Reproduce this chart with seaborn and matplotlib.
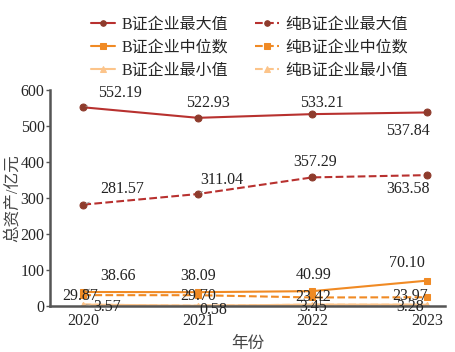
import pandas as pd
import matplotlib
matplotlib.use("Agg")
import matplotlib.pyplot as plt
import seaborn as sns

# 数据
years = [2020, 2021, 2022, 2023]
b_max = [552.19, 522.93, 533.21, 537.84]
pure_max = [281.57, 311.04, 357.29, 363.58]
b_median = [38.66, 38.09, 40.99, 70.10]
pure_median = [29.87, 29.70, 23.42, 23.97]
b_min = [3.57, 0.58, 3.45, 3.28]
pure_min = [3.57, 0.58, 3.45, 3.28]

names = ["B证企业最大值", "纯B证企业最大值", "B证企业中位数",
         "纯B证企业中位数", "B证企业最小值", "纯B证企业最小值"]
series = [b_max, pure_max, b_median, pure_median, b_min, pure_min]

sns.set_style("ticks")
plt.rcParams["font.family"] = ["Liberation Serif", "Noto Sans CJK SC"]
plt.rcParams["font.size"] = 11

line_colors = ["#b8312f", "#b8312f", "#f08a24", "#f08a24", "#fcc48a", "#fcc48a"]
marker_colors = ["#8e3b2c", "#8e3b2c", "#f08a24", "#f08a24", "#fcc48a", "#fcc48a"]
markers = ["o", "o", "s", "s", "^", "^"]
dashed = [False, True, False, True, False, True]

# 标签偏移 (像素)
offsets = [
    [(37, 14), (10, 15), (10, 11), (-19, -19)],
    [(39, 16), (24, 14), (3, 15), (-19, -14)],
    [(35, 16), (0, 16), (1, 16), (-20, 18)],
    [(-3, -1), (0, -1), (1, 0), (-17, 1)],
    [(24, -2), (15, -4), (1, -2), (-17, -2)],
    [None, None, None, None],
]

fig, ax = plt.subplots(figsize=(4.56, 3.52), dpi=100)
fig.subplots_adjust(left=0.11, right=0.976, bottom=0.131, top=0.744)

for name, vals, lc, mc, mk, ds in zip(names, series, line_colors, marker_colors, markers, dashed):
    sns.lineplot(x=years, y=vals, ax=ax, color=lc, linewidth=1.5,
                 linestyle="--" if ds else "-", marker=mk, markersize=5,
                 markerfacecolor=mc, markeredgecolor=mc, label=name)

for vals, offs in zip(series, offsets):
    for x, v, off in zip(years, vals, offs):
        if off is None:
            continue
        lead = abs(off[0]) > 20
        ax.annotate(f"{v:.2f}", xy=(x, v), xytext=off, textcoords="offset pixels",
                    ha="center", va="center", fontsize=11.5, color="#222222",
                    arrowprops=dict(arrowstyle="-", color="#999999", lw=0.6,
                                    shrinkA=6, shrinkB=2) if lead else None)

ax.set_xlim(2019.71, 2023.16)
ax.set_ylim(0, 600)
ax.set_xticks(years)
ax.set_yticks([0, 100, 200, 300, 400, 500, 600])
ax.tick_params(axis="x", length=0, pad=5, labelsize=11.5)
ax.tick_params(axis="y", length=3, width=1, color="#555555", labelsize=11.5, pad=1)
sns.despine(ax=ax)
for s in ["left", "bottom"]:
    ax.spines[s].set_linewidth(1.8)
    ax.spines[s].set_color("#555555")

ax.set_xlabel("年份", fontsize=12, color="#444444", labelpad=5)
ax.set_ylabel("总资产/亿元", fontsize=12, color="#444444", labelpad=0)

handles, labels = ax.get_legend_handles_labels()
order = [0, 2, 4, 1, 3, 5]
ax.legend([handles[i] for i in order], [labels[i] for i in order],
          loc="upper center", bbox_to_anchor=(0.548, 0.985), bbox_transform=fig.transFigure,
          ncol=2, frameon=False, fontsize=11.5, handlelength=1.5, handletextpad=0.4,
          columnspacing=1.7, labelspacing=0.45, markerscale=0.8, borderpad=0.2)

plt.savefig("out.png", dpi=100)
